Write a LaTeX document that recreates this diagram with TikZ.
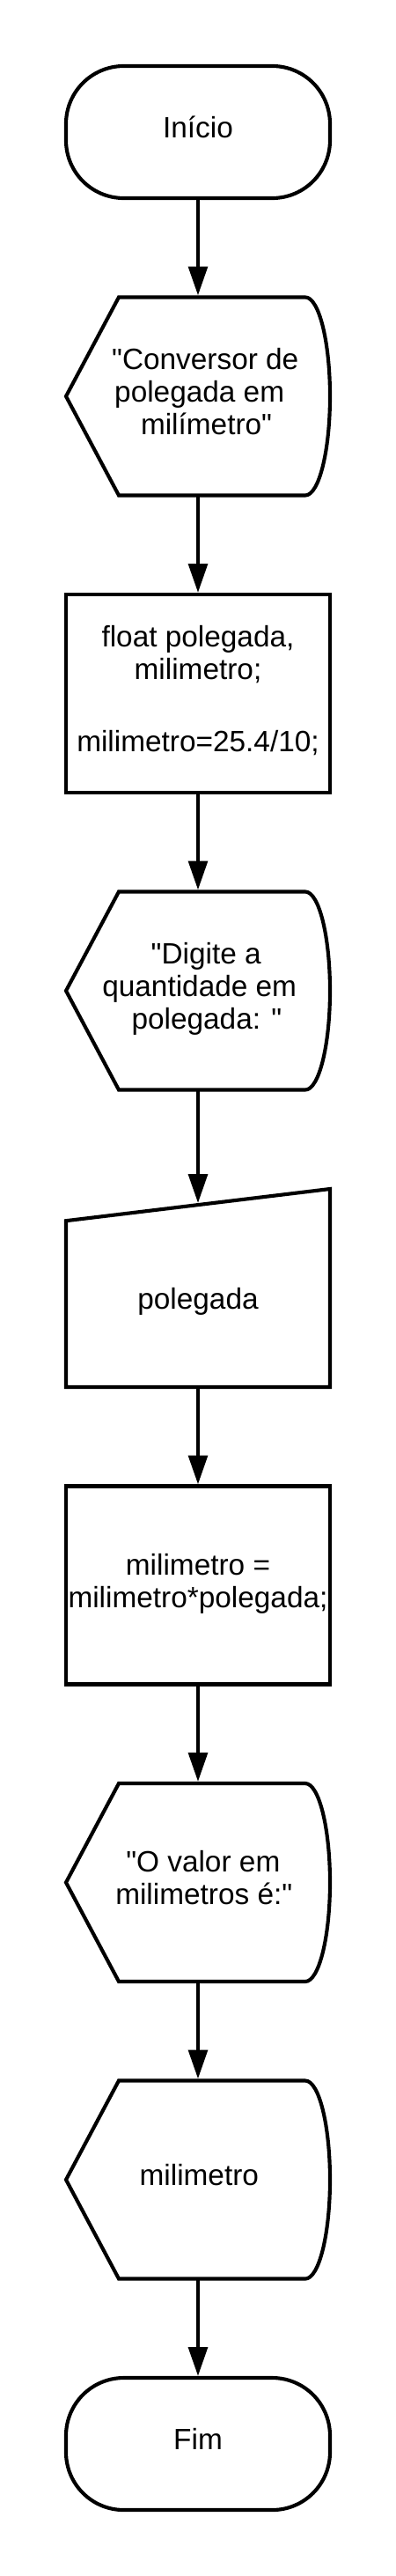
\documentclass[tikz,border=0pt]{standalone}
\usepackage{fontspec}
\setmainfont{Liberation Sans}[Ligatures=TeXOff]
\usetikzlibrary{arrows.meta,calc}
\newcommand\flowfont{\fontsize{17.8pt}{19.7pt}\selectfont\lineskiplimit=-100pt\relax}
\newcommand\tline[2][0]{\makebox[0pt][c]{\hspace*{#1pt}\hspace*{#1pt}\rule[-10pt]{0pt}{27pt}#2}}
\begin{document}
\begin{tikzpicture}[x=1pt,y=1pt,
  lw/.style={line width=2.2pt},
  txt/.style={font=\flowfont, align=center, inner sep=0pt, outer sep=0pt},
  terminal/.style={txt, draw=black, lw, rounded corners=35pt, minimum width=160pt, minimum height=80pt},
  process/.style={txt, draw=black, lw, minimum width=160pt, minimum height=120pt},
  frame/.style={txt, minimum width=160pt, minimum height=120pt},
  outline/.style={draw=black, lw, line join=miter},
  arr/.style={lw, -{Triangle[length=17.5pt,width=11.5pt]}, shorten >=1.1pt},
]
\useasboundingbox (0,0) rectangle (240,-1560);

\node[terminal] (ini) at (120,-80) {\tline{Início}};
\node[frame] (d1) at (120,-240) {\tline[4.4]{"Conversor de}\\\tline[0.9]{polegada em}\\\tline[5.1]{milímetro"}};
\node[process] (p1) at (120,-420) {\tline{float polegada,}\\\tline{milimetro;}\\[23.8pt]\tline{milimetro=25.4/10;}};
\node[frame] (d2) at (120,-600) {\tline[4.9]{"Digite a}\\\tline[0.9]{quantidade em}\\\tline[5.3]{polegada: "}};
\node[frame] (mi) at (120,-780) {};
\node[txt] (mit) at (120,-789.4) {\tline{polegada}};
\node[process] (p2) at (120,-960) {\tline{milimetro =}\\\tline{milimetro*polegada;}};
\node[frame] (d3) at (120,-1140) {\tline[3.1]{"O valor em}\\\tline[3.6]{milimetros é:"}};
\node[frame] (d4) at (120,-1320) {\tline[0.7]{milimetro}};
\node[terminal] (fim) at (120,-1480) {\tline{Fim}};

\foreach \n in {d1,d2,d3,d4}{
  \draw[outline] (\n.west) -- ($(\n.north west)+(32,0)$) -- ($(\n.north east)+(-15,0)$)
    arc[start angle=90,end angle=-90,x radius=15pt,y radius=60pt]
    -- ($(\n.south west)+(32,0)$) -- cycle;
}
\draw[outline] ($(mi.north west)+(0,-19.3)$) -- (mi.north east) -- (mi.south east) -- (mi.south west) -- cycle;
\coordinate (mitop) at ($(mi.north)+(0,-9.65)$);

\draw[arr] (ini.south) -- (d1.north);
\draw[arr] (d1.south) -- (p1.north);
\draw[arr] (p1.south) -- (d2.north);
\draw[arr] (d2.south) -- (mitop);
\draw[arr] (mi.south) -- (p2.north);
\draw[arr] (p2.south) -- (d3.north);
\draw[arr] (d3.south) -- (d4.north);
\draw[arr] (d4.south) -- (fim.north);
\end{tikzpicture}
\end{document}
